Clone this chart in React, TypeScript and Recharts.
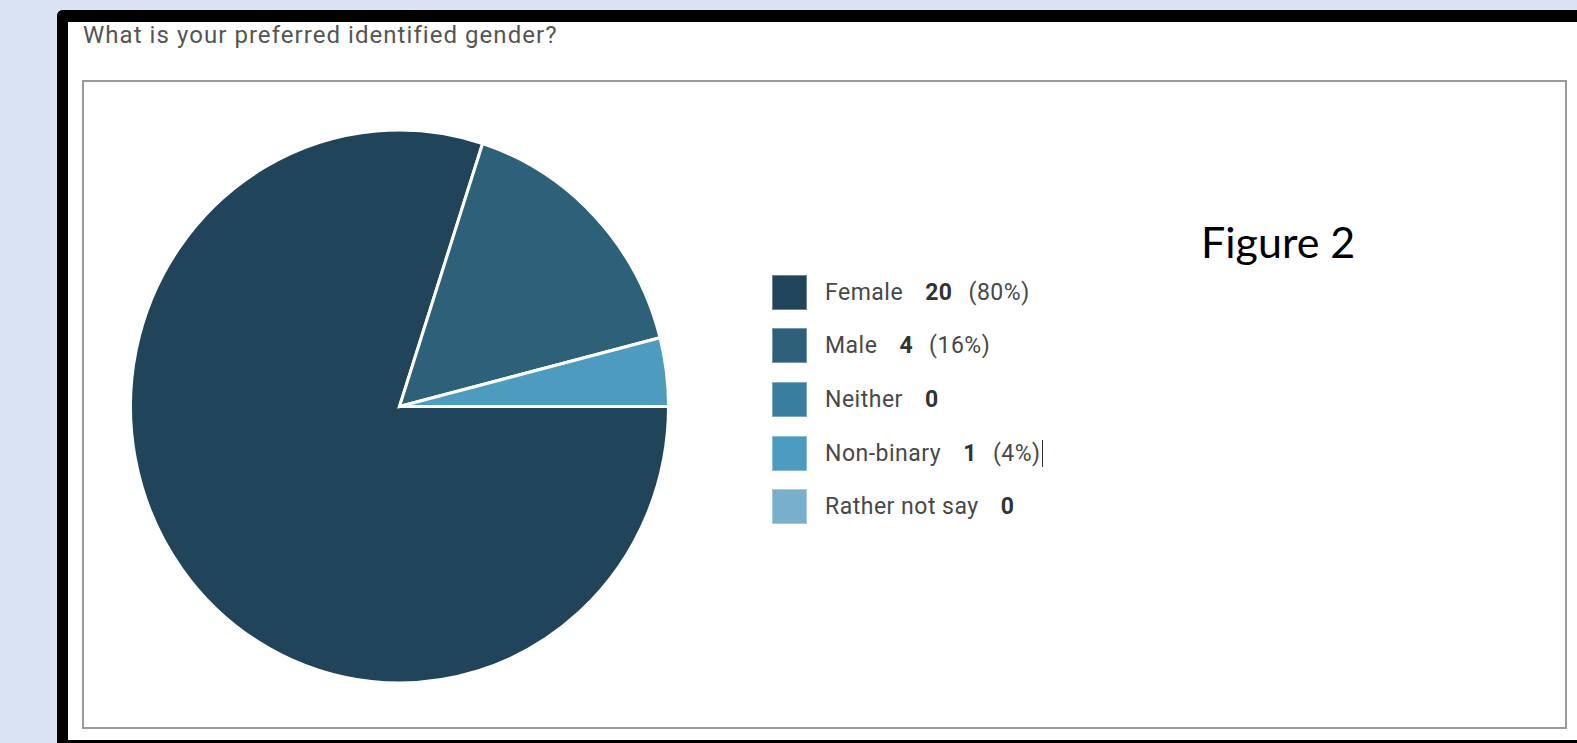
import { PieChart, Pie, Cell, Legend } from 'recharts';

// survey answers
const categories = ['Female', 'Male', 'Neither', 'Non-binary', 'Rather not say'];
const counts = [20, 4, 0, 1, 0];
const sliceColors = ['#20445a', '#2d6079', '#3a7e9f', '#4e9bc0', '#78afcc'];

const total = counts.reduce((a, b) => a + b, 0);
const chartData = categories.map((name, i) => ({ name, value: counts[i] }));

const GenderLegend = () => (
  <div style={{ fontFamily: 'Roboto', fontSize: 23, color: '#484848', letterSpacing: 0.5 }}>
    {chartData.map((d, i) => (
      <div key={d.name} style={{ display: 'flex', alignItems: 'center', height: 53.6 }}>
        <span
          style={{
            width: 35,
            height: 35,
            background: sliceColors[i],
            marginRight: 18,
            boxSizing: 'border-box',
            border: '1px solid rgba(255,255,255,0.35)',
          }}
        />
        <span>{d.name}</span>
        <b style={{ marginLeft: 22, color: '#333' }}>{d.value}</b>
        {d.value > 0 && (
          <span style={{ marginLeft: 16 }}>({Math.round((d.value / total) * 100)}%)</span>
        )}
        {d.name === 'Non-binary' && (
          <span style={{ display: 'inline-block', width: 0, height: 27, borderLeft: '1.5px solid #333', marginLeft: 1 }} />
        )}
      </div>
    ))}
  </div>
);

// the screenshot is a little taller than wide, stretch the pie to match
const pieCss = `
.gender-chart .recharts-pie {
  transform: scaleY(1.028);
  transform-origin: 399.5px 406.5px;
}
`;

export default function App() {
  return (
    <div style={{ position: 'fixed', left: 0, top: 0, width: 1577, height: 743, background: '#dae3f3', overflow: 'hidden' }}>
      <style>{pieCss}</style>
      {/* white panel with black frame on left, top and bottom; right side runs off the page */}
      <div
        style={{
          position: 'absolute',
          left: 57,
          top: 10,
          width: 1600,
          height: 733,
          boxSizing: 'border-box',
          background: '#fff',
          borderLeft: '11px solid #000',
          borderTop: '12px solid #000',
          borderBottom: '3px solid #000',
          borderTopLeftRadius: 6,
        }}
      />
      <div
        style={{
          position: 'absolute',
          left: 83,
          top: 21,
          fontFamily: 'Roboto',
          fontSize: 24,
          color: '#555',
          letterSpacing: 1.05,
          whiteSpace: 'nowrap',
        }}
      >
        What is your preferred identified gender?
      </div>
      {/* chart box */}
      <div
        style={{
          position: 'absolute',
          left: 82,
          top: 80,
          width: 1485,
          height: 649,
          boxSizing: 'border-box',
          border: '2px solid #9a9a9a',
        }}
      />
      <div
        style={{
          position: 'absolute',
          left: 1201,
          top: 216,
          fontFamily: 'Lato',
          fontSize: 43,
          color: '#000',
          whiteSpace: 'nowrap',
          lineHeight: 1.2,
        }}
      >
        Figure 2
      </div>
      <div style={{ position: 'absolute', left: 0, top: 0 }}>
        <PieChart className="gender-chart" width={1100} height={743} margin={{ top: 0, right: 0, bottom: 0, left: 0 }}>
          <Pie
            data={chartData}
            dataKey="value"
            nameKey="name"
            cx={399.5}
            cy={406.5}
            outerRadius={269}
            startAngle={0}
            endAngle={-360}
            stroke="#fff"
            strokeWidth={3}
            isAnimationActive={false}
          >
            {chartData.map((entry, index) => (
              <Cell key={`cell-${index}`} fill={sliceColors[index]} />
            ))}
          </Pie>
          <Legend
            layout="vertical"
            align="center"
            verticalAlign="middle"
            content={GenderLegend}
            wrapperStyle={{ left: 772, top: 265.5, width: 'auto' }}
          />
        </PieChart>
      </div>
    </div>
  );
}
